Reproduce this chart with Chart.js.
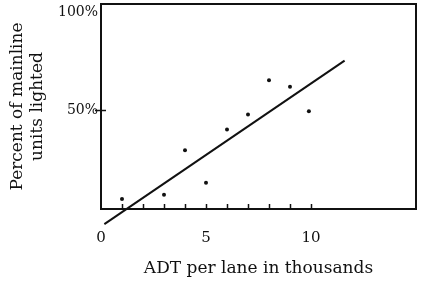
<!DOCTYPE html>
<html>
<head>
<meta charset="utf-8">
<script src="https://cdn.jsdelivr.net/npm/chart.js@4"></script>
<style>
  html, body { margin: 0; padding: 0; background: #fff; }
  #wrap { width: 421px; height: 284px; position: relative; }
</style>
</head>
<body>
<div id="wrap"><canvas id="chart"></canvas></div>
<script>
// values
const adtThousands = [1.0, 3.0, 4.0, 5.0, 6.0, 7.0, 8.0, 9.0, 9.9];
const pctLighted = [5.1, 7.2, 29.8, 13.3, 40.3, 48.0, 65.3, 62.0, 49.6];
const fitLineX = [0.16, 11.6];
const fitLineY = [-7.7, 75.3];
const xTickValues = [0, 5, 10];
const xMinorMarks = [1, 2, 3, 4, 5, 6, 7, 8, 9, 10];
const yTickValues = [50, 100];

const ink = '#111';
const serif = 'DejaVu Serif';

// box frame, little marks on the x axis, "+" at 50%
const frameMarks = {
    id: 'frameMarks',
    afterDatasetsDraw(chart) {
        const { ctx, chartArea: a, scales } = chart;
        ctx.save();
        ctx.strokeStyle = ink;
        ctx.lineWidth = 2;
        ctx.strokeRect(a.left, a.top, a.right - a.left, a.bottom - a.top);

        ctx.lineWidth = 1.5;
        xMinorMarks.forEach(v => {
            const px = Math.round(scales.x.getPixelForValue(v)) + 0.5;
            ctx.beginPath();
            ctx.moveTo(px, a.bottom);
            ctx.lineTo(px, a.bottom - 5);
            ctx.stroke();
        });

        const py = Math.round(scales.y.getPixelForValue(50)) + 0.5;
        ctx.beginPath();
        ctx.moveTo(a.left - 6, py);
        ctx.lineTo(a.left + 5, py);
        ctx.stroke();
        ctx.restore();
    }
};

new Chart(document.getElementById('chart'), {
    type: 'scatter',
    data: {
        datasets: [
            {
                data: adtThousands.map((x, i) => ({ x: x, y: pctLighted[i] })),
                backgroundColor: ink,
                borderColor: ink,
                pointRadius: 2,
                pointBorderWidth: 0
            },
            {
                type: 'line',
                data: fitLineX.map((x, i) => ({ x: x, y: fitLineY[i] })),
                borderColor: ink,
                borderWidth: 2,
                pointRadius: 0,
                clip: false
            }
        ]
    },
    plugins: [frameMarks],
    options: {
        responsive: true,
        maintainAspectRatio: false,
        animation: false,
        events: [],
        layout: { padding: { top: 3, right: 5, left: 0, bottom: 0 } },
        plugins: {
            legend: { display: false },
            tooltip: { enabled: false }
        },
        scales: {
            x: {
                type: 'linear',
                min: 0,
                max: 15,
                border: { display: false },
                grid: { display: false, drawTicks: false },
                afterBuildTicks: (scale) => {
                    scale.ticks = xTickValues.map(v => ({ value: v }));
                },
                afterFit: (scale) => {
                    scale.height = 75;
                    scale.paddingLeft = 0;
                    scale.paddingRight = 0;
                },
                ticks: {
                    color: ink,
                    padding: 20,
                    maxRotation: 0,
                    font: { family: serif, size: 15 }
                },
                title: {
                    display: true,
                    text: 'ADT per lane in thousands',
                    color: ink,
                    padding: { top: 0, bottom: 5 },
                    font: { family: serif, size: 17 }
                }
            },
            y: {
                type: 'linear',
                min: 0,
                max: 104,
                border: { display: false },
                grid: { display: false, drawTicks: false },
                afterBuildTicks: (scale) => {
                    scale.ticks = yTickValues.map(v => ({ value: v }));
                },
                afterFit: (scale) => {
                    scale.width = 101;
                    scale.paddingTop = 0;
                    scale.paddingBottom = 0;
                },
                ticks: {
                    color: ink,
                    padding: 3,
                    font: { family: serif, size: 14 },
                    callback: (v) => v + '%'
                },
                title: {
                    display: true,
                    text: ['Percent of mainline', 'units lighted'],
                    color: ink,
                    padding: { top: 8, bottom: 0 },
                    font: { family: serif, size: 17, lineHeight: 1.15 }
                }
            }
        }
    }
});
</script>
</body>
</html>
